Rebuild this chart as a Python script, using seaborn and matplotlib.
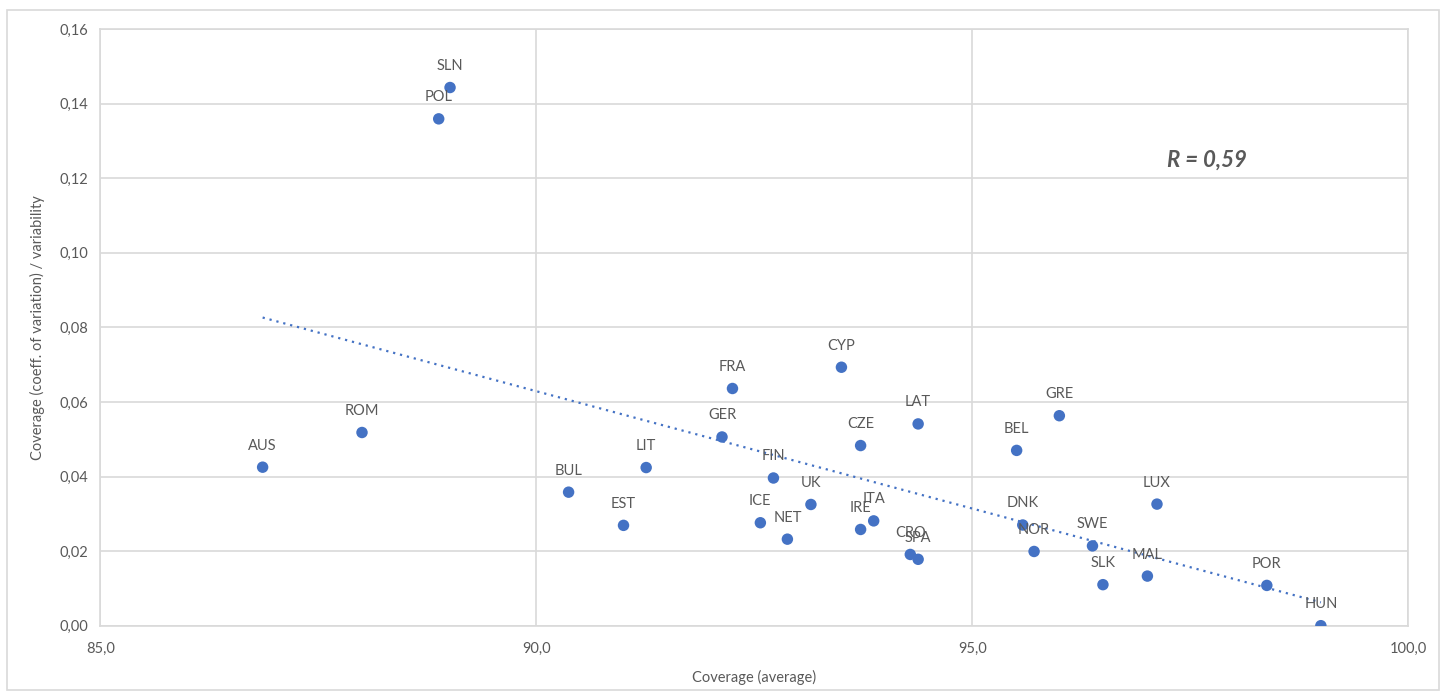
import numpy as np
import pandas as pd
import matplotlib
matplotlib.use("Agg")
import matplotlib.pyplot as plt
from matplotlib.ticker import FuncFormatter, MultipleLocator
from matplotlib.patches import Rectangle
import seaborn as sns

sns.set_theme(style="white")
plt.rcParams['font.family'] = ['Lato', 'DejaVu Sans']

# data
countries = ['AUS', 'ROM', 'POL', 'SLN', 'BUL', 'EST', 'LIT', 'GER', 'FRA', 'ICE',
             'FIN', 'NET', 'UK', 'CYP', 'CZE', 'IRE', 'ITA', 'CRO', 'SPA', 'LAT',
             'BEL', 'DNK', 'NOR', 'GRE', 'SWE', 'SLK', 'MAL', 'LUX', 'POR', 'HUN']
coverage = [86.86, 88.00, 88.88, 89.01, 90.37, 91.00, 91.26, 92.13, 92.25, 92.57,
            92.72, 92.88, 93.15, 93.50, 93.72, 93.72, 93.87, 94.29, 94.38, 94.38,
            95.51, 95.58, 95.71, 96.00, 96.38, 96.50, 97.01, 97.12, 98.38, 99.00]
variability = [0.0425, 0.0518, 0.1359, 0.1443, 0.0358, 0.0269, 0.0424, 0.0506, 0.0636, 0.0276,
               0.0396, 0.0232, 0.0325, 0.0693, 0.0483, 0.0258, 0.0281, 0.0191, 0.0178, 0.0541,
               0.0470, 0.0270, 0.0199, 0.0563, 0.0214, 0.0110, 0.0133, 0.0326, 0.0108, 0.0000]

df = pd.DataFrame({'country': countries, 'coverage': coverage, 'variability': variability})

blue = '#4472C4'
grey_txt = '#595959'
grid_c = '#d9d9d9'

fig = plt.figure(figsize=(14.48, 6.98), dpi=100)
ax = fig.add_axes([0.0694, 0.1036, 0.9030, 0.8549])

# outer chart border
fig.patches.append(Rectangle((0.005, 0.012), 0.989, 0.974, transform=fig.transFigure,
                             fill=False, edgecolor=grid_c, linewidth=1.2))

# trendline
sns.regplot(data=df, x='coverage', y='variability', ax=ax, scatter=False, ci=None,
            truncate=True, line_kws=dict(color=blue, linestyle=(0, (1, 2.2)), linewidth=1.6))

sns.scatterplot(data=df, x='coverage', y='variability', ax=ax, color=blue, s=68,
                edgecolor='none', zorder=3)

for c, xv, yv in zip(countries, coverage, variability):
    ax.annotate(c, (xv, yv), xytext=(0, 15.5), textcoords='offset points',
                ha='center', va='center', fontsize=10.5, color=grey_txt)

ax.set_xlim(85, 100)
ax.set_ylim(0, 0.16)
ax.xaxis.set_major_locator(MultipleLocator(5))
ax.yaxis.set_major_locator(MultipleLocator(0.02))
ax.xaxis.set_major_formatter(FuncFormatter(lambda v, p: f'{v:.1f}'.replace('.', ',')))
ax.yaxis.set_major_formatter(FuncFormatter(lambda v, p: f'{v:.2f}'.replace('.', ',')))
ax.grid(True, color=grid_c, linewidth=1.2)
ax.set_axisbelow(True)
for s in ax.spines.values():
    s.set_color(grid_c)
    s.set_linewidth(1.2)
ax.tick_params(axis='both', length=0, labelsize=10.5, labelcolor=grey_txt)
ax.tick_params(axis='x', pad=12)
ax.tick_params(axis='y', pad=9)

ax.set_xlabel('Coverage (average)', fontsize=10.5, color=grey_txt, labelpad=10)
ax.set_ylabel('Coverage (coeff. of variation) / variability', fontsize=10.5,
              color=grey_txt, labelpad=10)

ax.text(97.69, 0.1248, 'R = 0,59', fontsize=16, fontweight='bold', fontstyle='italic',
        color=grey_txt, ha='center', va='center')

plt.savefig('out.png', dpi=100)
